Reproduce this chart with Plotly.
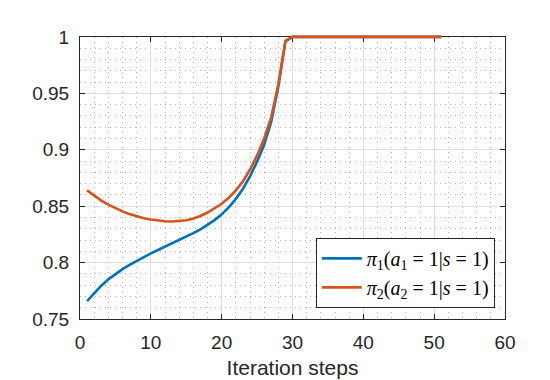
import plotly.graph_objects as go

# Iteration steps
steps = list(range(1, 52))

# pi_1(a_1=1|s=1)
pi1_values = [
    0.766, 0.7732, 0.7796, 0.7852, 0.790, 0.7942, 0.798, 0.8016, 0.805, 0.8082,
    0.8112, 0.8141, 0.817, 0.8199, 0.8229, 0.8261, 0.8295, 0.8333, 0.8377, 0.8428,
    0.849, 0.8565, 0.8655, 0.8765, 0.8895, 0.9045, 0.925, 0.956, 0.996, 1.0,
] + [1.0] * 21

# pi_2(a_2=1|s=1)
pi2_values = [
    0.864, 0.8592, 0.855, 0.8514, 0.8482, 0.8454, 0.843, 0.841, 0.8394, 0.8382,
    0.8373, 0.8367, 0.8365, 0.8368, 0.8376, 0.8392, 0.8414, 0.8444, 0.848, 0.8522,
    0.8575, 0.864, 0.872, 0.8825, 0.895, 0.910, 0.929, 0.958, 0.9965, 1.0,
] + [1.0] * 21

legend_names = [
    "<i>π</i><sub>1</sub>(<i>a</i><sub>1</sub> = 1|<i>s</i> = 1)",
    "<i>π</i><sub>2</sub>(<i>a</i><sub>2</sub> = 1|<i>s</i> = 1)",
]

x_range = [0, 60]
x_ticks = [0, 10, 20, 30, 40, 50, 60]
y_range = [0.75, 1]
y_ticks = [0.75, 0.8, 0.85, 0.9, 0.95, 1]
y_tick_text = ["0.75", "0.8", "0.85", "0.9", "0.95", "1"]

axis_color = "#262626"

# The curves live on a second (hidden) subplot with a few pixels of headroom,
# so the line at y=1 is drawn over the box edge instead of being clipped
pad_px = 4
box_px = 289
pad_val = pad_px / box_px * (y_range[1] - y_range[0])
area_px = box_px + 2 * pad_px

fig = go.Figure()

# empty trace so the framed subplot (x, y) gets drawn
fig.add_trace(go.Scatter(x=[], y=[], showlegend=False, hoverinfo="skip"))

fig.add_trace(go.Scatter(
    x=steps, y=pi1_values, mode="lines", name=legend_names[0],
    line=dict(color="#0072BD", width=2.6), xaxis="x2", yaxis="y2"
))
fig.add_trace(go.Scatter(
    x=steps, y=pi2_values, mode="lines", name=legend_names[1],
    line=dict(color="#D95319", width=2.6), xaxis="x2", yaxis="y2"
))

grid_major = dict(showgrid=True, gridcolor="#DEDEDE", gridwidth=1)
box_line = dict(
    ticks="inside", ticklen=5, tickcolor=axis_color,
    showline=True, linecolor=axis_color, linewidth=1, mirror="ticks",
    zeroline=False, ticklabelstandoff=6,
)

fig.update_layout(
    width=550,
    height=380,
    margin=dict(l=72, r=52.5, t=28.5 - pad_px, b=62.5 - pad_px),
    paper_bgcolor="white",
    plot_bgcolor="rgba(0,0,0,0)",
    font=dict(family="Liberation Sans, Arial, sans-serif", color=axis_color, size=19),
    showlegend=True,
    legend=dict(
        x=0.976, y=(pad_px + 11.5) / area_px, xanchor="right", yanchor="bottom",
        bgcolor="white", bordercolor=axis_color, borderwidth=1,
        font=dict(family="Liberation Serif, serif", size=20, color="black"),
        itemwidth=40,
        tracegroupgap=0,
    ),
    # visible frame: ticks, grid, labels
    xaxis=dict(
        anchor="y", domain=[0, 1], range=x_range, tickvals=x_ticks,
        minor=dict(dtick=2, showgrid=True, gridcolor="#B4B4B4", griddash="1px,4px", gridwidth=1),
        title=dict(text="Iteration steps", font=dict(size=21), standoff=8),
        **grid_major, **box_line,
    ),
    yaxis=dict(
        anchor="x", domain=[pad_px / area_px, 1 - pad_px / area_px],
        range=y_range, tickvals=y_ticks, ticktext=y_tick_text,
        minor=dict(dtick=0.01, showgrid=True, gridcolor="#B4B4B4", griddash="1px,4px", gridwidth=1),
        **grid_major, **box_line,
    ),
    # hidden axes carrying the data
    xaxis2=dict(anchor="y2", domain=[0, 1], range=x_range, visible=False),
    yaxis2=dict(anchor="x2", domain=[0, 1], visible=False,
                range=[y_range[0] - pad_val, y_range[1] + pad_val]),
)

fig.write_html("out.html")
